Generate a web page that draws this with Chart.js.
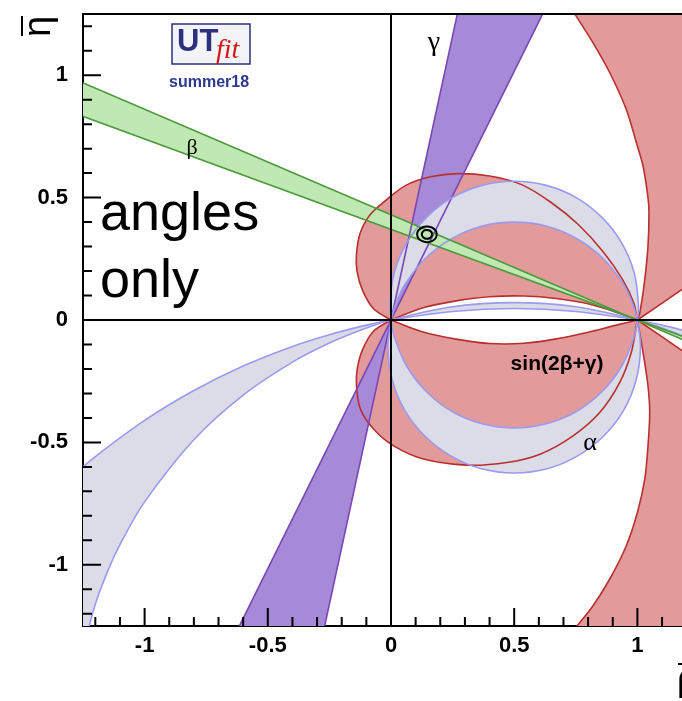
<!DOCTYPE html>
<html>
<head>
<meta charset="utf-8">
<script src="https://cdn.jsdelivr.net/npm/chart.js@4.4.1/dist/chart.umd.min.js"></script>
<style>
  html, body { margin: 0; padding: 0; background: #fff; overflow: hidden; }
  #wrap { width: 720px; height: 701px; }
</style>
</head>
<body>
<div id="wrap"><canvas id="utChart" width="720" height="701"></canvas></div>
<script>
const X_TICKS = [-1, -0.5, 0, 0.5, 1];
const Y_TICKS = [-1, -0.5, 0, 0.5, 1];

// beta band: two lines crossing at (1,0)
const betaUpper = [[-1.3, 0.99], [1.3, -0.13]];
const betaLower = [[-1.3, 0.85], [1.3, -0.11]];

// gamma band: two lines crossing at the origin
const gammaSteep = [[-0.28, -1.3], [0.28, 1.3]];
const gammaShallow = [[-0.64, -1.3], [0.64, 1.3]];

// alpha: two small arcs above and below the axis
const alphaC1Upper = [[0, 0], [-0.004, 0.063], [0.013, 0.193], [0.064, 0.315], [0.144, 0.419], [0.248, 0.5], [0.37, 0.55], [0.5, 0.567], [0.63, 0.55], [0.752, 0.5], [0.856, 0.419], [0.936, 0.315], [0.987, 0.193], [1.004, 0.063], [1, 0]];
const alphaC1Lower = [[0, 0], [0.013, -0.067], [0.064, -0.189], [0.144, -0.293], [0.248, -0.374], [0.37, -0.424], [0.5, -0.441], [0.63, -0.424], [0.752, -0.374], [0.856, -0.293], [0.936, -0.189], [0.987, -0.067], [1, 0]];
const alphaC2Upper = [[0, 0], [0.018, 0.063], [0.056, 0.144], [0.138, 0.25], [0.244, 0.331], [0.367, 0.383], [0.5, 0.4], [0.633, 0.383], [0.756, 0.331], [0.862, 0.25], [0.944, 0.144], [0.982, 0.063], [1, 0]];
const alphaC2Lower = [[0, 0], [-0.0125, -0.1125], [0.005, -0.245], [0.056, -0.369], [0.138, -0.475], [0.244, -0.556], [0.367, -0.608], [0.5, -0.625], [0.633, -0.608], [0.756, -0.556], [0.862, -0.475], [0.944, -0.369], [0.995, -0.245], [1.0125, -0.1125], [1, 0]];

// alpha: the wide arcs running out to the left and right
const alphaBigA = [[-1.3, -0.643], [-1.2, -0.558], [-1.0, -0.41], [-0.8, -0.288], [-0.6, -0.188], [-0.4, -0.108], [-0.25, -0.06], [-0.1, -0.021], [0, 0], [0.25, 0.035], [0.5, 0.047], [0.75, 0.035], [1, 0], [1.1, -0.021], [1.2, -0.046], [1.3, -0.075]];
const alphaBigB = [[-1.25, -1.347], [-1.2, -1.161], [-1.15, -1.027], [-1.1, -0.918], [-1.0, -0.743], [-0.8, -0.489], [-0.6, -0.307], [-0.4, -0.172], [-0.25, -0.094], [-0.1, -0.033], [0, 0], [0.25, 0.054], [0.5, 0.071], [0.75, 0.054], [1, 0], [1.1, -0.033], [1.2, -0.072], [1.3, -0.118]];

// sin(2beta+gamma)
const sinUpperOuter = [[0, 0], [-0.07, 0.045], [-0.115, 0.12], [-0.138, 0.2], [-0.14, 0.27], [-0.125, 0.355], [-0.085, 0.43], [-0.02, 0.49], [0.06, 0.55], [0.16, 0.585], [0.27, 0.598], [0.4, 0.588], [0.53, 0.553], [0.65, 0.48], [0.76, 0.39], [0.86, 0.28], [0.94, 0.165], [0.985, 0.07], [1, 0]];
const sinUpperInner = [[0, 0], [0.13, 0.05], [0.27, 0.079], [0.4, 0.095], [0.54, 0.098], [0.67, 0.088], [0.8, 0.066], [0.91, 0.033], [1, 0]];
const sinLowerOuter = [[0, 0], [-0.07, -0.045], [-0.115, -0.12], [-0.137, -0.2], [-0.14, -0.27], [-0.124, -0.364], [-0.07, -0.446], [0.011, -0.514], [0.132, -0.568], [0.308, -0.593], [0.47, -0.582], [0.605, -0.548], [0.739, -0.473], [0.847, -0.378], [0.928, -0.256], [0.975, -0.133], [1, 0]];
const sinLowerInner = [[0, 0], [0.13, -0.049], [0.27, -0.079], [0.4, -0.096], [0.54, -0.095], [0.67, -0.077], [0.8, -0.05], [0.91, -0.022], [1, 0]];
const sinRightUpEdge = [[1, 0], [1.01, 0.03], [1.03, 0.166], [1.043, 0.302], [1.047, 0.44], [1.043, 0.5], [1.023, 0.629], [0.996, 0.724], [0.955, 0.86], [0.888, 1.01], [0.82, 1.132], [0.746, 1.25], [0.7, 1.32], [1.5, 1.32]];
const sinRightUpBase = [[1, 0], [1.18, 0.124], [1.4, 0.28]];
const sinRightLowEdge = [[1, 0], [1.023, -0.133], [1.043, -0.269], [1.05, -0.378], [1.043, -0.514], [1.03, -0.65], [1.0, -0.786], [0.955, -0.922], [0.888, -1.058], [0.82, -1.167], [0.752, -1.254], [0.7, -1.32], [1.5, -1.32]];
const sinRightLowBase = [[1, 0], [1.18, -0.124], [1.4, -0.28]];

// fit result contours
const fitOuter = [[0.186, 0.35], [0.181, 0.366], [0.166, 0.378], [0.146, 0.382], [0.126, 0.378], [0.111, 0.366], [0.106, 0.35], [0.111, 0.334], [0.126, 0.322], [0.146, 0.318], [0.166, 0.322], [0.181, 0.334], [0.186, 0.35]];
const fitInner = [[0.167, 0.35], [0.164, 0.359], [0.157, 0.366], [0.146, 0.368], [0.136, 0.366], [0.128, 0.359], [0.125, 0.35], [0.128, 0.341], [0.136, 0.334], [0.146, 0.332], [0.157, 0.334], [0.164, 0.341], [0.167, 0.35]];

const RED_FILL = "#e39a9a";
const RED_LINE = "#b8302e";
const PURPLE_FILL = "#a68ad8";
const PURPLE_LINE = "#7a46b4";
const LAV_FILL = "#dcdce8";
const LAV_LINE = "#9a9af0";
const GREEN_FILL = "#bfe8b2";
const GREEN_LINE = "#4c9a3c";

const toXY = (arr) => arr.map(([x, y]) => ({ x, y }));
const rev = (arr) => arr.slice().reverse();

function fillSet(points, color, tension) {
  return {
    data: toXY(points),
    fill: "shape",
    backgroundColor: color,
    borderColor: "rgba(0,0,0,0)",
    borderWidth: 0,
    pointRadius: 0,
    tension: tension,
  };
}

function lineSet(points, color, width, tension) {
  return {
    data: toXY(points),
    fill: false,
    borderColor: color,
    borderWidth: width,
    pointRadius: 0,
    tension: tension,
  };
}

// painting order: first entry at the bottom
const datasets = [
  fillSet([...sinUpperOuter, ...rev(sinUpperInner)], RED_FILL, 0.3),
  fillSet([...sinLowerOuter, ...rev(sinLowerInner)], RED_FILL, 0.3),
  fillSet([...sinRightUpEdge, ...rev(sinRightUpBase)], RED_FILL, 0.3),
  fillSet([...sinRightLowEdge, ...rev(sinRightLowBase)], RED_FILL, 0.3),
  fillSet([...rev(gammaSteep), ...gammaShallow], PURPLE_FILL, 0),
  fillSet([...alphaC1Upper, ...rev(alphaC2Upper), ...alphaC2Lower, ...rev(alphaC1Lower)], LAV_FILL, 0.35),
  fillSet([...alphaBigA, ...rev(alphaBigB)], LAV_FILL, 0.35),
  fillSet([...betaUpper, ...rev(betaLower)], GREEN_FILL, 0),

  lineSet(sinUpperOuter, RED_LINE, 1.6, 0.3),
  lineSet(sinUpperInner, RED_LINE, 1.6, 0.3),
  lineSet(sinLowerOuter, RED_LINE, 1.6, 0.3),
  lineSet(sinLowerInner, RED_LINE, 1.6, 0.3),
  lineSet(sinRightUpEdge, RED_LINE, 1.6, 0.3),
  lineSet(sinRightUpBase, RED_LINE, 1.6, 0.3),
  lineSet(sinRightLowEdge, RED_LINE, 1.6, 0.3),
  lineSet(sinRightLowBase, RED_LINE, 1.6, 0.3),
  lineSet(gammaSteep, PURPLE_LINE, 1.6, 0),
  lineSet(gammaShallow, PURPLE_LINE, 1.6, 0),
  lineSet([...alphaC1Upper, ...rev(alphaC1Lower).slice(1)], LAV_LINE, 1.6, 0.35),
  lineSet([...alphaC2Upper, ...rev(alphaC2Lower).slice(1)], LAV_LINE, 1.6, 0.35),
  lineSet(alphaBigA, LAV_LINE, 1.6, 0.35),
  lineSet(alphaBigB, LAV_LINE, 1.6, 0.35),
  lineSet(betaUpper, GREEN_LINE, 1.6, 0),
  lineSet(betaLower, GREEN_LINE, 1.6, 0),
  lineSet(fitOuter, "#000", 2, 0.4),
  lineSet(fitInner, "#000", 2, 0.4),
];
datasets.forEach((ds, i) => (ds.order = -i));

const overlay = {
  id: "overlay",
  afterDatasetsDraw(chart) {
    const { ctx, chartArea: a, scales } = chart;
    const x = scales.x;
    const y = scales.y;
    ctx.save();
    ctx.strokeStyle = "#000";
    ctx.lineWidth = 2;
    ctx.beginPath();
    const x0 = x.getPixelForValue(0);
    const y0 = y.getPixelForValue(0);
    ctx.moveTo(x0, a.top);
    ctx.lineTo(x0, a.bottom);
    ctx.moveTo(a.left, y0);
    ctx.lineTo(a.right, y0);
    ctx.moveTo(a.left, a.top);
    ctx.lineTo(a.right, a.top);
    // ticks point into the frame
    for (let k = -12; k <= 12; k++) {
      const len = k % 5 === 0 ? 18 : 9;
      const px = x.getPixelForValue(k / 10);
      const py = y.getPixelForValue(k / 10);
      ctx.moveTo(px, a.bottom);
      ctx.lineTo(px, a.bottom - len);
      ctx.moveTo(a.left, py);
      ctx.lineTo(a.left + len, py);
    }
    ctx.stroke();
    ctx.restore();
  },
  afterDraw(chart) {
    const { ctx } = chart;
    ctx.save();
    ctx.fillStyle = "#000";
    ctx.textBaseline = "alphabetic";
    ctx.textAlign = "left";

    ctx.font = '54px "Liberation Sans", Arial, sans-serif';
    ctx.fillText("angles", 100, 230);
    ctx.fillText("only", 100, 297);

    ctx.font = '28px "Liberation Serif", serif';
    ctx.textAlign = "center";
    ctx.fillText("\u03b3", 434, 50);
    ctx.font = '22px "Liberation Serif", serif';
    ctx.fillText("\u03b2", 192, 154);
    ctx.font = '26px "Liberation Serif", serif';
    ctx.fillText("\u03b1", 590, 450);
    ctx.font = 'bold 21px "Liberation Sans", Arial, sans-serif';
    ctx.fillText("sin(2\u03b2+\u03b3)", 557, 370);

    // logo
    ctx.fillStyle = "#f3f3f8";
    ctx.fillRect(172, 24, 78, 40);
    ctx.strokeStyle = "#2b2f7e";
    ctx.lineWidth = 1.5;
    ctx.strokeRect(172, 24, 78, 40);
    ctx.textAlign = "left";
    ctx.fillStyle = "#2b2f7e";
    ctx.font = 'bold 31px "Liberation Sans", Arial, sans-serif';
    ctx.fillText("UT", 177, 51);
    ctx.fillStyle = "#d01818";
    ctx.font = 'italic 28px "Liberation Serif", serif';
    ctx.fillText("fit", 216, 58);
    ctx.fillStyle = "#2b3a8f";
    ctx.font = 'bold 16px "Liberation Sans", Arial, sans-serif';
    ctx.fillText("summer18", 169, 87);

    // axis titles
    ctx.fillStyle = "#000";
    ctx.strokeStyle = "#000";
    ctx.lineWidth = 2;
    ctx.save();
    ctx.translate(50, 37);
    ctx.rotate(-Math.PI / 2);
    ctx.font = '38px "Liberation Sans", Arial, sans-serif';
    ctx.fillText("\u03b7", 0, 0);
    ctx.beginPath();
    ctx.moveTo(1, -28);
    ctx.lineTo(21, -28);
    ctx.stroke();
    ctx.restore();

    ctx.font = '36px "Liberation Sans", Arial, sans-serif';
    ctx.fillText("\u03c1", 677, 690);
    ctx.beginPath();
    ctx.moveTo(678, 664);
    ctx.lineTo(700, 664);
    ctx.stroke();
    ctx.restore();
  },
};

const tickFont = { family: '"Liberation Sans", Arial, sans-serif', size: 22, weight: "bold" };

new Chart(document.getElementById("utChart"), {
  type: "line",
  data: { datasets },
  options: {
    responsive: false,
    animation: false,
    events: [],
    layout: { padding: { top: 14, right: 21, bottom: 0, left: 0 } },
    plugins: { legend: { display: false }, tooltip: { enabled: false } },
    scales: {
      x: {
        type: "linear",
        min: -1.25,
        max: 1.25,
        grid: { display: false, drawTicks: false },
        border: { display: true, color: "#000", width: 2 },
        ticks: { font: tickFont, color: "#000", padding: 7, maxRotation: 0, autoSkip: false, callback: (v) => String(v) },
        afterBuildTicks: (s) => { s.ticks = X_TICKS.map((v) => ({ value: v })); },
        afterFit: (s) => { s.height = 75; s.paddingLeft = 0; s.paddingRight = 0; },
      },
      y: {
        type: "linear",
        min: -1.25,
        max: 1.25,
        grid: { display: false, drawTicks: false },
        border: { display: true, color: "#000", width: 2 },
        ticks: { font: tickFont, color: "#000", padding: 15, autoSkip: false, callback: (v) => String(v) },
        afterBuildTicks: (s) => { s.ticks = Y_TICKS.map((v) => ({ value: v })); },
        afterFit: (s) => { s.width = 83; s.paddingTop = 0; s.paddingBottom = 0; },
      },
    },
  },
  plugins: [overlay],
});
</script>
</body>
</html>
